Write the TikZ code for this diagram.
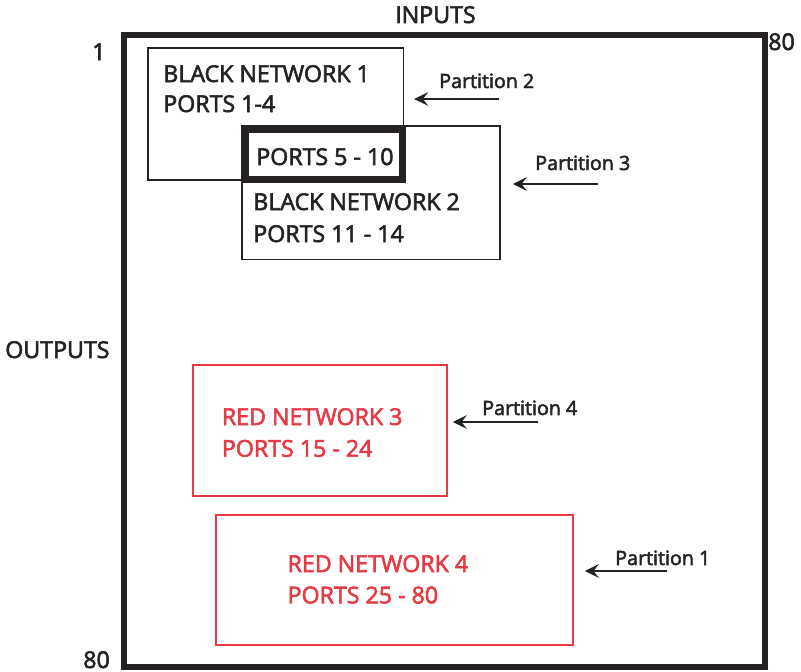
\documentclass[tikz,border=0pt]{standalone}
\usepackage{fontspec}
\setmainfont{Open Sans}[FakeBold=2.5]
\usepackage{tikz}
\usetikzlibrary{arrows.meta,positioning}
\definecolor{encre}{HTML}{262223}
\definecolor{rouge}{HTML}{E63A44}

\begin{document}
\begin{tikzpicture}[
  frame/.style={draw=encre,line width=3.8pt,minimum width=16.025cm,minimum height=15.8cm,inner sep=0pt},
  netbox/.style={draw=encre,line width=1.1pt,inner sep=0pt},
  redbox/.style={netbox,draw=rouge},
  portbox/.style={netbox,line width=5pt},
  txt/.style={anchor=base west,inner sep=0pt,text=encre,font=\fontsize{16.5}{20}\selectfont},
  redtxt/.style={txt,text=rouge},
  side/.style={anchor=base west,inner sep=0pt,text=encre,font=\fontsize{16.5}{20}\selectfont},
  part/.style={anchor=base west,inner sep=0pt,text=encre,font=\fontsize{14}{17}\selectfont},
  ptr/.style={-{Stealth[length=3.5mm,width=3.4mm,inset=1.3mm]},line width=1.1pt,encre}]
  \useasboundingbox (0,0) rectangle (20.025,-16.8);
  % Cadre
  \node[frame] (cadre) at (11.1125,-8.775) {};
  \node[side] (inputs) at (9.875,-0.575) {INPUTS};
  \node[side] (outputs) at (0.125,-8.95) {OUTPUTS};
  \node[side] (un) at (2.3,-1.5) {1};
  \node[side] (hautdroit) at (19.2,-1.25) {80};
  \node[side] (basgauche) at (2.075,-16.7) {80};
  % Reseaux noirs
  \node[netbox,minimum width=6.383cm,minimum height=3.3cm] (net1) at (6.892,-2.85) {};
  \node[netbox,minimum width=6.45cm,minimum height=3.3375cm] (net2) at (9.275,-4.819) {};
  \node[portbox,minimum width=3.925cm,minimum height=1.25cm] (commun) at (8.1,-3.8625) {};
  \node[txt] (n1a) at (4.075,-2.05) {BLACK NETWORK 1};
  \node[txt] (n1b) at (4.075,-2.8) {PORTS 1-4};
  \node[txt] (c1) at (6.4,-4.125) {PORTS 5 - 10};
  \node[txt] (n2a) at (6.325,-5.25) {BLACK NETWORK 2};
  \node[txt] (n2b) at (6.325,-6.05) {PORTS 11 - 14};
  % Reseaux rouges
  \node[redbox,minimum width=6.35cm,minimum height=3.275cm] (net3) at (8.0,-10.7625) {};
  \node[redbox,minimum width=8.925cm,minimum height=3.25cm] (net4) at (9.8625,-14.5) {};
  \node[redtxt] (n3a) at (5.54,-10.625) {RED NETWORK 3};
  \node[redtxt] (n3b) at (5.54,-11.417) {PORTS 15 - 24};
  \node[redtxt] (n4a) at (7.183,-14.3) {RED NETWORK 4};
  \node[redtxt] (n4b) at (7.183,-15.083) {PORTS 25 - 80};
  % Partitions
  \node[part] (p2) at (10.975,-2.2) {Partition 2};
  \node[part] (p3) at (13.375,-4.25) {Partition 3};
  \node[part] (p4) at (12.05,-10.375) {Partition 4};
  \node[part] (p1) at (15.375,-14.125) {Partition 1};
  \coordinate (t2) at (12.475,-2.475);
  \coordinate (t3) at (14.95,-4.6);
  \coordinate (t4) at (13.45,-10.55);
  \coordinate (t1) at (16.675,-14.275);
  \draw[ptr,shorten >=0.25cm] (t2) -- (net1.east |- t2);
  \draw[ptr,shorten >=0.3cm] (t3) -- (net2.east |- t3);
  \draw[ptr,shorten >=0.125cm] (t4) -- (net3.east |- t4);
  \draw[ptr,shorten >=0.275cm] (t1) -- (net4.east |- t1);
\end{tikzpicture}
\end{document}
